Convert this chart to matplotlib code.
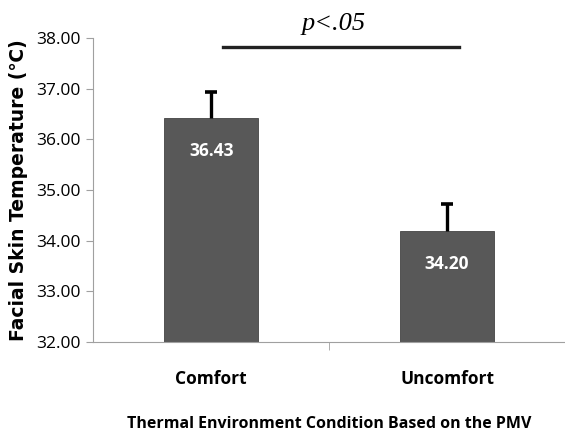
import numpy as np
import matplotlib.pyplot as plt

plt.rcParams['font.family'] = ['Open Sans', 'DejaVu Sans']

categories = ['Comfort', 'Uncomfort']
means = [36.43, 34.20]
sds = [0.50, 0.52]
value_labels = ['36.43', '34.20']

fig = plt.figure(figsize=(5.65, 4.32), dpi=100)
ax = fig.add_axes([0.165, 0.208, 0.835, 0.704])

x = np.arange(len(categories))
ax.bar(x, means, width=0.4, color='#585858', edgecolor='#444444',
       linewidth=0.6, zorder=2)
tops = np.array(means) + np.array(sds)
ax.vlines(x, means, tops, color='black', lw=2.4, zorder=3)
ax.plot(x, tops, ls='none', marker='_', ms=8, mew=2.6, color='black', zorder=3)

for xi, m, lab in zip(x, means, value_labels):
    ax.text(xi, m - 0.65, lab, ha='center', va='center', color='white',
            fontsize=12.5, fontweight='bold')

ax.set_ylim(32, 38)
ax.set_xlim(-0.5, 1.5)
yt = np.arange(32, 38.01, 1)
ax.set_yticks(yt)
ax.set_yticklabels([f'{v:.2f}' for v in yt], fontsize=12.5)
ax.set_xticks(x)
ax.set_xticklabels(categories, fontsize=12.5, fontweight='bold')
ax.tick_params(axis='x', length=0, pad=20)
ax.tick_params(axis='y', length=5, color='#a0a0a0', direction='out', pad=4)
ax.set_xticks([0.5], minor=True)
ax.tick_params(axis='x', which='minor', length=6, color='#a0a0a0')

for s in ['top', 'right']:
    ax.spines[s].set_visible(False)
ax.spines['left'].set_color('#a0a0a0')
ax.spines['bottom'].set_color('#a0a0a0')

ax.set_ylabel('Facial Skin Temperature (\u2103)', fontsize=13.5, fontweight='bold',
              labelpad=6, family=['DejaVu Sans'])
ax.set_xlabel('Thermal Environment Condition Based on the PMV', fontsize=11.5,
              fontweight='bold', labelpad=20)

# significance line
ax.plot([0.05, 1.05], [37.83, 37.83], color='#222222', lw=2.4, clip_on=False)
ax.text(0.52, 38.27, 'p<.05', ha='center', va='center', fontsize=19,
        fontstyle='italic', family=['Liberation Serif', 'DejaVu Serif'])

fig.savefig('out.png', dpi=100)
